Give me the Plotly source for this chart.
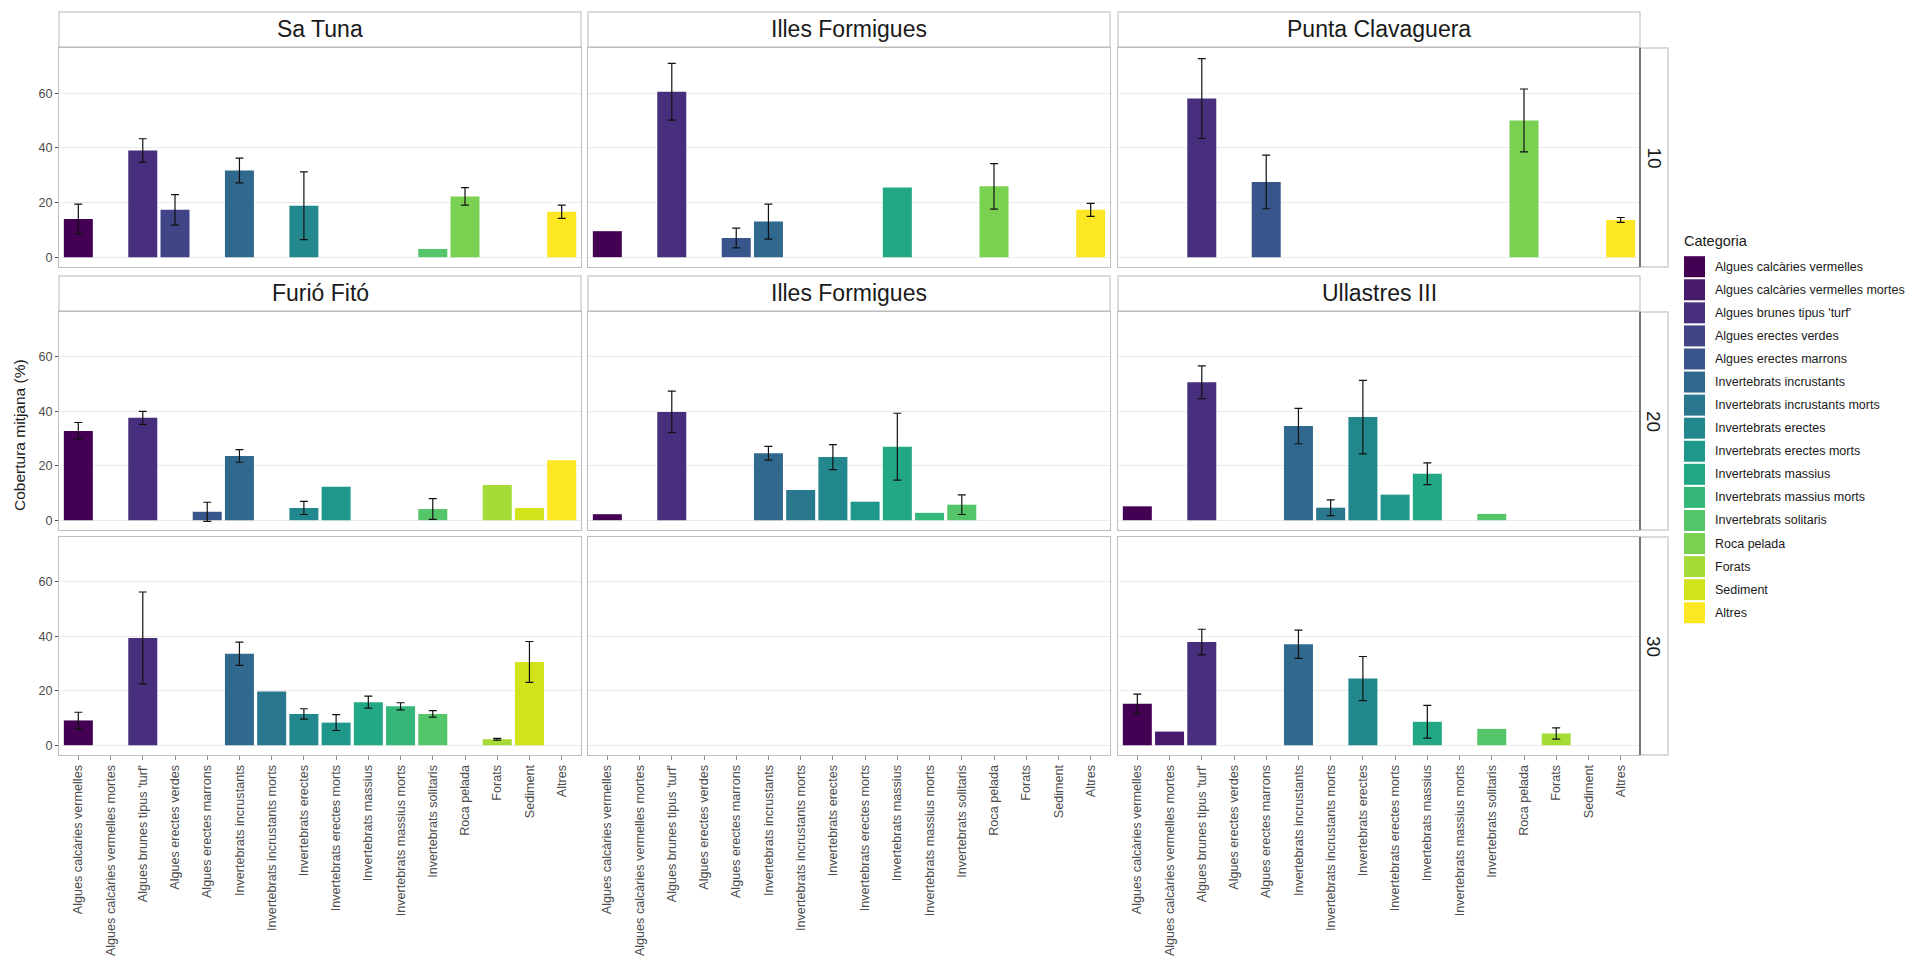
import numpy as np
import plotly.graph_objects as go

# ---------------- data ----------------
CATEGORIES = [
    "Algues calcàries vermelles",
    "Algues calcàries vermelles mortes",
    "Algues brunes tipus 'turf'",
    "Algues erectes verdes",
    "Algues erectes marrons",
    "Invertebrats incrustants",
    "Invertebrats incrustants morts",
    "Invertebrats erectes",
    "Invertebrats erectes morts",
    "Invertebrats massius",
    "Invertebrats massius morts",
    "Invertebrats solitaris",
    "Roca pelada",
    "Forats",
    "Sediment",
    "Altres",
]

COLORS = [
    "#440154", "#481A6C", "#472F7D", "#414487", "#39568C", "#31688E",
    "#2A788E", "#23888E", "#1F988B", "#22A884", "#35B779", "#54C568",
    "#7AD151", "#A5DB36", "#D2E21B", "#FDE725",
]

DEPTHS = ["10", "20", "30"]
SITES_10 = ["Sa Tuna", "Illes Formigues", "Punta Clavaguera"]
SITES_20 = ["Furió Fitó", "Illes Formigues", "Ullastres III"]
SITES_30 = ["Furió Fitó", "Illes Formigues", "Ullastres III"]

N = None
# depth 10
SA_TUNA_10 = [14.0, N, 39.0, 17.3, N, 31.7, N, 18.8, N, N, N, 3.0, 22.2, N, N, 16.6]
SA_TUNA_10_SE = [5.4, N, 4.3, 5.6, N, 4.5, N, 12.4, N, N, N, N, 3.2, N, N, 2.4]
FORMIGUES_10 = [9.5, N, 60.5, N, 7.0, 13.0, N, N, N, 25.5, N, N, 25.9, N, N, 17.3]
FORMIGUES_10_SE = [N, N, 10.4, N, 3.6, 6.4, N, N, N, N, N, N, 8.3, N, N, 2.4]
CLAVAGUERA_10 = [N, N, 58.0, N, 27.5, N, N, N, N, N, N, N, 50.0, N, N, 13.6]
CLAVAGUERA_10_SE = [N, N, 14.6, N, 9.8, N, N, N, N, N, N, N, 11.5, N, N, 0.9]
# depth 20
FURIO_20 = [32.8, N, 37.6, N, 3.1, 23.6, N, 4.5, 12.3, N, N, 4.1, N, 12.9, 4.5, 22.0]
FURIO_20_SE = [3.1, N, 2.4, N, 3.5, 2.3, N, 2.4, N, N, N, 3.8, N, N, N, N]
FORMIGUES_20 = [2.2, N, 39.8, N, N, 24.6, 11.1, 23.2, 6.8, 27.0, 2.7, 5.7, N, N, N, N]
FORMIGUES_20_SE = [N, N, 7.6, N, N, 2.5, N, 4.6, N, 12.3, N, 3.6, N, N, N, N]
ULLASTRES_20 = [5.1, N, 50.7, N, N, 34.6, 4.6, 37.9, 9.4, 17.1, N, 2.3, N, N, N, N]
ULLASTRES_20_SE = [N, N, 6.0, N, N, 6.5, 2.9, 13.5, N, 4.0, N, N, N, N, N, N]
# depth 30
FURIO_30 = [9.1, N, 39.4, N, N, 33.6, 19.7, 11.5, 8.3, 15.8, 14.3, 11.5, N, 2.2, 30.6, N]
FURIO_30_SE = [3.0, N, 16.9, N, N, 4.3, N, 1.9, 2.9, 2.2, 1.3, 1.2, N, 0.3, 7.5, N]
FORMIGUES_30 = [N] * 16
FORMIGUES_30_SE = [N] * 16
ULLASTRES_30 = [15.2, 5.0, 37.9, N, N, 37.1, N, 24.5, N, 8.6, N, 6.0, N, 4.3, N, N]
ULLASTRES_30_SE = [3.6, N, 4.7, N, N, 5.2, N, 8.1, N, 6.0, N, N, N, 2.1, N, N]

PANEL_VALUES = [
    [SA_TUNA_10, FORMIGUES_10, CLAVAGUERA_10],
    [FURIO_20, FORMIGUES_20, ULLASTRES_20],
    [FURIO_30, FORMIGUES_30, ULLASTRES_30],
]
PANEL_SE = [
    [SA_TUNA_10_SE, FORMIGUES_10_SE, CLAVAGUERA_10_SE],
    [FURIO_20_SE, FORMIGUES_20_SE, ULLASTRES_20_SE],
    [FURIO_30_SE, FORMIGUES_30_SE, ULLASTRES_30_SE],
]
STRIP_TITLES = [SITES_10, SITES_20, None]

Y_TITLE = "Cobertura mitjana (%)"
LEGEND_TITLE = "Categoria"

# ---------------- layout helpers ----------------
W, H = 1919, 966
def X(px):
    return px / W
def Y(py):
    return 1 - py / H

COL_PX = [(59, 581), (588, 1110), (1118, 1640)]
ROW_PX = [(48, 267), (312, 530), (537, 755)]
TOP_STRIP_PX = [(12, 47), (276, 311), None]
RIGHT_STRIP_X = (1640, 1668)

FONT = "Liberation Sans, Arial, sans-serif"
GRID = "#ebebeb"
BORDER = "#bdbdbd"

fig = go.Figure()
layout = dict(
    width=W, height=H, autosize=False,
    margin=dict(l=0, r=0, t=0, b=0),
    paper_bgcolor="white", plot_bgcolor="white",
    showlegend=False, bargap=0.1,
    font=dict(family=FONT, size=12, color="#4d4d4d"),
)
shapes = []
annotations = []

for r in range(3):
    for c in range(3):
        idx = r * 3 + c + 1
        xa = "x" if idx == 1 else f"x{idx}"
        ya = "y" if idx == 1 else f"y{idx}"
        vals = PANEL_VALUES[r][c]
        ses = PANEL_SE[r][c]
        fig.add_trace(go.Bar(
            x=CATEGORIES, y=vals, marker=dict(color=COLORS, line=dict(width=0)),
            xaxis=xa, yaxis=ya, showlegend=False, hoverinfo="x+y",
        ))
        ex = [CATEGORIES[i] for i in range(16) if ses[i] is not None and vals[i] is not None]
        ey = [vals[i] for i in range(16) if ses[i] is not None and vals[i] is not None]
        ee = [ses[i] for i in range(16) if ses[i] is not None and vals[i] is not None]
        if ex:
            fig.add_trace(go.Scatter(
                x=ex, y=ey, mode="markers", marker=dict(size=1, opacity=0),
                error_y=dict(type="data", array=ee, symmetric=True, color="#111111",
                             thickness=1.2, width=4),
                xaxis=xa, yaxis=ya, showlegend=False, hoverinfo="skip",
            ))
        x0, x1 = COL_PX[c]
        y0, y1 = ROW_PX[r]
        bottom = (r == 2)
        left = (c == 0)
        layout["xaxis" if idx == 1 else f"xaxis{idx}"] = dict(
            domain=[X(x0), X(x1)], anchor=ya, type="category",
            categoryorder="array", categoryarray=CATEGORIES,
            range=[-0.6, 15.6], showgrid=False, zeroline=False,
            showline=True, mirror=True, linecolor=BORDER, linewidth=1,
            showticklabels=bottom, ticks="outside" if bottom else "",
            ticklen=4, tickcolor="#8c8c8c", tickangle=-90,
            tickfont=dict(family=FONT, size=12.6, color="#4d4d4d"),
            fixedrange=True,
        )
        layout["yaxis" if idx == 1 else f"yaxis{idx}"] = dict(
            domain=[Y(y1), Y(y0)], anchor=xa, range=[-3.6, 76.5],
            tickvals=[0, 20, 40, 60], showgrid=True, gridcolor=GRID, gridwidth=1,
            zeroline=False, showline=True, mirror=True, linecolor=BORDER, linewidth=1,
            showticklabels=left, ticks="outside" if left else "", ticklen=3,
            tickcolor="#4d4d4d", tickfont=dict(family=FONT, size=12.6, color="#4d4d4d"),
            fixedrange=True,
        )
        # top strips
        if TOP_STRIP_PX[r] is not None:
            sy0, sy1 = TOP_STRIP_PX[r]
            shapes.append(dict(type="rect", xref="paper", yref="paper",
                               x0=X(x0), x1=X(x1), y0=Y(sy1), y1=Y(sy0),
                               fillcolor="white", line=dict(color="#cfcfcf", width=1.5),
                               layer="below"))
            annotations.append(dict(xref="paper", yref="paper",
                                    x=X((x0 + x1) / 2), y=Y((sy0 + sy1) / 2),
                                    text=STRIP_TITLES[r][c], showarrow=False,
                                    xanchor="center", yanchor="middle",
                                    font=dict(family=FONT, size=23, color="#1a1a1a")))
    # right strips
    y0, y1 = ROW_PX[r]
    rx0, rx1 = RIGHT_STRIP_X
    shapes.append(dict(type="rect", xref="paper", yref="paper",
                       x0=X(rx0), x1=X(rx1), y0=Y(y1), y1=Y(y0),
                       fillcolor="white", line=dict(color="#cfcfcf", width=1.5)))
    shapes.append(dict(type="line", xref="paper", yref="paper",
                       x0=X(rx0), x1=X(rx0), y0=Y(y1), y1=Y(y0),
                       line=dict(color="#555555", width=1.5)))
    annotations.append(dict(xref="paper", yref="paper",
                            x=X((rx0 + rx1) / 2), y=Y((y0 + y1) / 2),
                            text=DEPTHS[r], showarrow=False, textangle=90,
                            xanchor="center", yanchor="middle",
                            font=dict(family=FONT, size=19, color="#1a1a1a")))

# y-axis title
annotations.append(dict(xref="paper", yref="paper", x=X(19), y=Y(435),
                        text=Y_TITLE, showarrow=False, textangle=-90,
                        xanchor="center", yanchor="middle",
                        font=dict(family=FONT, size=15.5, color="#1a1a1a")))

# legend (manual)
annotations.append(dict(xref="paper", yref="paper", x=X(1682), y=Y(241),
                        text=LEGEND_TITLE, showarrow=False,
                        xanchor="left", yanchor="middle",
                        font=dict(family=FONT, size=14.5, color="#1a1a1a")))
for i, (cat, col) in enumerate(zip(CATEGORIES, COLORS)):
    cy = 266.7 + i * 23.07
    shapes.append(dict(type="rect", xref="paper", yref="paper",
                       x0=X(1684), x1=X(1705), y0=Y(cy + 10.5), y1=Y(cy - 10.5),
                       fillcolor=col, line=dict(width=0)))
    annotations.append(dict(xref="paper", yref="paper", x=X(1713), y=Y(cy),
                            text=cat, showarrow=False, xanchor="left", yanchor="middle",
                            font=dict(family=FONT, size=12.5, color="#1a1a1a")))

layout["shapes"] = shapes
layout["annotations"] = annotations
fig.update_layout(**layout)

fig.write_html("out.html", config={"displayModeBar": False},
               post_script="document.body.style.margin='0';document.body.style.overflow='hidden';")
